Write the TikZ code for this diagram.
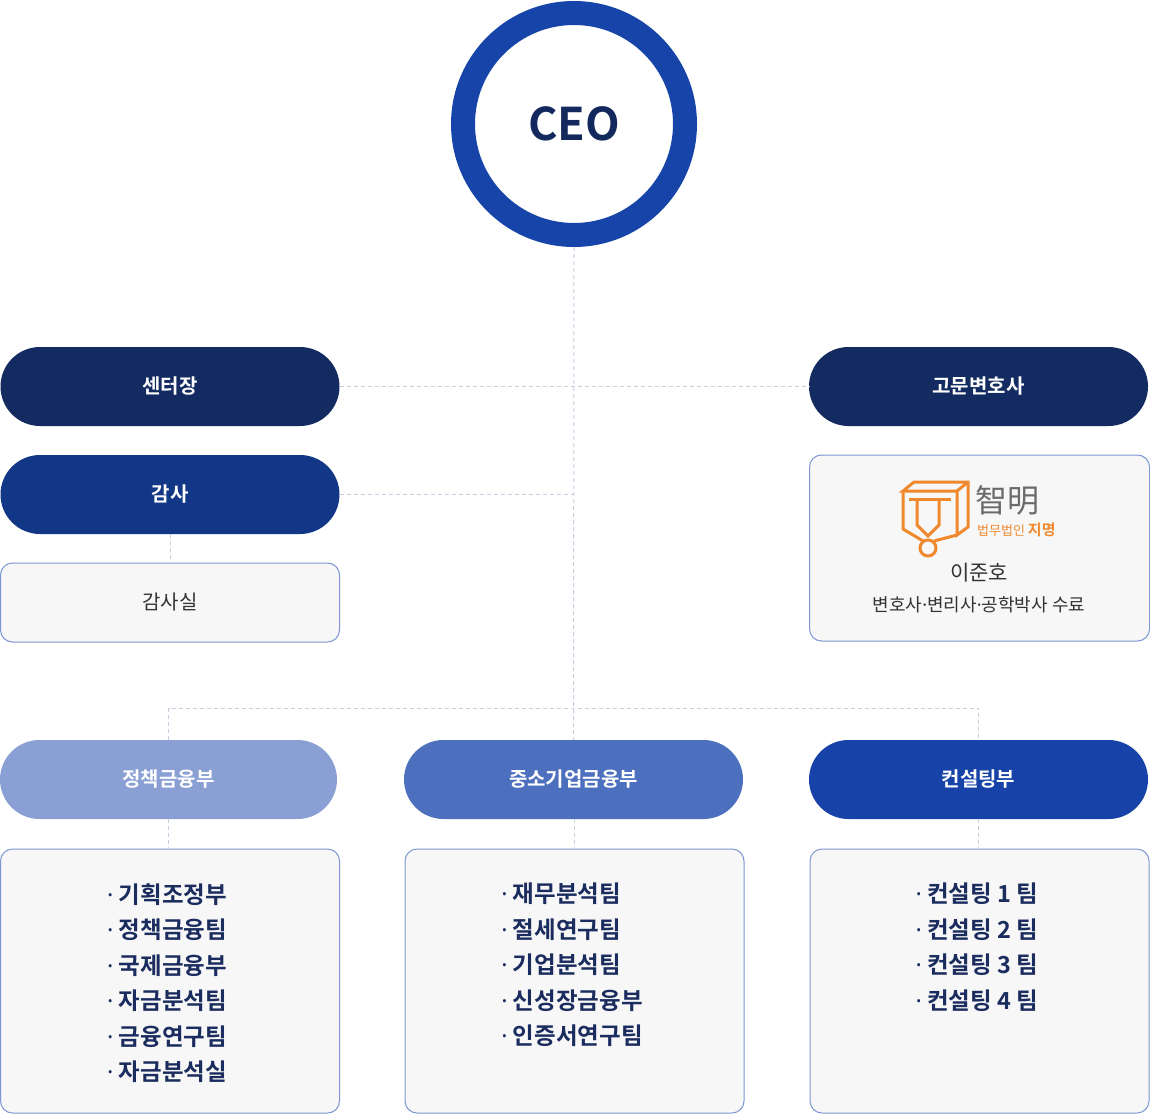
\documentclass[tikz,border=0pt]{standalone}
\usepackage{fontspec}
\setmainfont{Noto Sans CJK KR}[BoldFont={* Bold}]
\newfontfamily\dotfont{Noto Sans}
\newcommand\middot{{\dotfont ·}}
\definecolor{ceoblue}{HTML}{1644A8}
\definecolor{ceonavy}{HTML}{13295E}
\definecolor{navyA}{HTML}{132B61}
\definecolor{navyB}{HTML}{123786}
\definecolor{blueA}{HTML}{8AA0D4}
\definecolor{blueB}{HTML}{4C6FBE}
\definecolor{blueC}{HTML}{1743A8}
\definecolor{boxgray}{HTML}{F7F7F7}
\definecolor{boxline}{HTML}{7D97D3}
\definecolor{linkgray}{HTML}{C8CFE2}
\definecolor{listnavy}{HTML}{1B2C5E}
\definecolor{textgray}{HTML}{333333}
\definecolor{logogray}{HTML}{6B6B6B}
\definecolor{logoorange}{HTML}{F0892E}

\begin{document}
\begin{tikzpicture}[x=1pt,y=-1pt,
  link/.style={draw=linkgray, line width=1pt, dash pattern=on 4pt off 3pt},
  pill/.style={rounded corners=39.5pt, minimum width=339pt, minimum height=79pt, text=white, font=\fontsize{20}{24}\selectfont\bfseries},
  infobox/.style={draw=boxline, fill=boxgray, line width=1pt, rounded corners=12pt, minimum width=339pt},
  listtext/.style={align=left, inner sep=0pt, anchor=north, text=listnavy, font=\fontsize{23.5}{35.5}\selectfont\bfseries},
  logo/.style={draw=logoorange, line width=3pt, line join=miter}]
\fill[white] (0,0) rectangle (1150,1115);
\useasboundingbox (0,0) rectangle (1150,1115);

\node[circle, draw=ceoblue, line width=24pt, minimum size=222pt, text=ceonavy, font=\fontsize{45}{45}\selectfont\bfseries] (ceo) at (574,124) {CEO};

\node[pill, fill=navyA] (center) at (170,386.5) {센터장};
\node[pill, fill=navyB] (audit) at (170,494.5) {감사};
\node[infobox, minimum height=79pt, text=textgray, font=\fontsize{20}{24}\selectfont] (auditroom) at (170,602.5) {감사실};
\node[pill, fill=navyA] (advisor) at (978.5,386.5) {고문변호사};
\node[infobox, minimum width=340pt, minimum height=186pt] (lawbox) at (979.5,548) {};

\draw[logo] (914,482) -- (968,482) -- (968,527) -- (957,535) -- (957,491) -- (903,491) -- cycle;
\draw[logo] (957,491) -- (968,482);
\draw[logo] (903,491) -- (903,529) -- (923,541);
\draw[logo] (957,535) -- (934,541);
\draw[logo] (909,499) -- (951,499);
\draw[logo] (917,499) -- (917,525) -- (928,536) -- (939,525) -- (939,499);
\draw[logo] (928,548) circle (8pt);
\node[anchor=west, inner sep=0pt, text=logogray, font=\fontsize{32}{32}\selectfont] (hanja) at (975,500) {智明};
\node[anchor=west, inner sep=0pt, text=logoorange, font=\fontsize{13}{13}\selectfont] (firm) at (977,530) {법무법인 {\bfseries\fontsize{15}{15}\selectfont 지명}};
\node[text=textgray, font=\fontsize{21}{21}\selectfont] (lawyer) at (979,573) {이준호};
\node[text=textgray, font=\fontsize{18}{18}\selectfont] (career) at (979,605) {변호사\middot 변리사\middot 공학박사 수료};

\node[pill, fill=blueA, minimum width=337pt] (policy) at (168.5,779.5) {정책금융부};
\node[pill, fill=blueB] (sme) at (573.5,779.5) {중소기업금융부};
\node[pill, fill=blueC] (consult) at (978.5,779.5) {컨설팅부};

\node[infobox, minimum height=264pt] (policybox) at (170,981) {};
\node[infobox, minimum height=264pt] (smebox) at (574.5,981) {};
\node[infobox, minimum height=264pt] (consultbox) at (979.5,981) {};
\node[listtext] (policylist) at (167,883) {\middot\ 기획조정부\\\middot\ 정책금융팀\\\middot\ 국제금융부\\\middot\ 자금분석팀\\\middot\ 금융연구팀\\\middot\ 자금분석실};
\node[listtext] (smelist) at (572,883) {\middot\ 재무분석팀\\\middot\ 절세연구팀\\\middot\ 기업분석팀\\\middot\ 신성장금융부\\\middot\ 인증서연구팀};
\node[listtext] (consultlist) at (977,883) {\middot\ 컨설팅 1 팀\\\middot\ 컨설팅 2 팀\\\middot\ 컨설팅 3 팀\\\middot\ 컨설팅 4 팀};

\coordinate (split) at (574,708);
\draw[link] (ceo.south) -- (sme.north);
\draw[link] (center.east) -- (advisor.west);
\draw[link] (audit.east) -- (audit.east -| ceo.south);
\draw[link] (audit.south) -- (auditroom.north);
\draw[link] (policy.north) |- (split) -| (consult.north);
\draw[link] (policy.south) -- (policybox.north -| policy.south);
\draw[link] (sme.south -| ceo.south) -- (smebox.north -| ceo.south);
\draw[link] (consult.south) -- (consultbox.north -| consult.south);
\end{tikzpicture}
\end{document}
